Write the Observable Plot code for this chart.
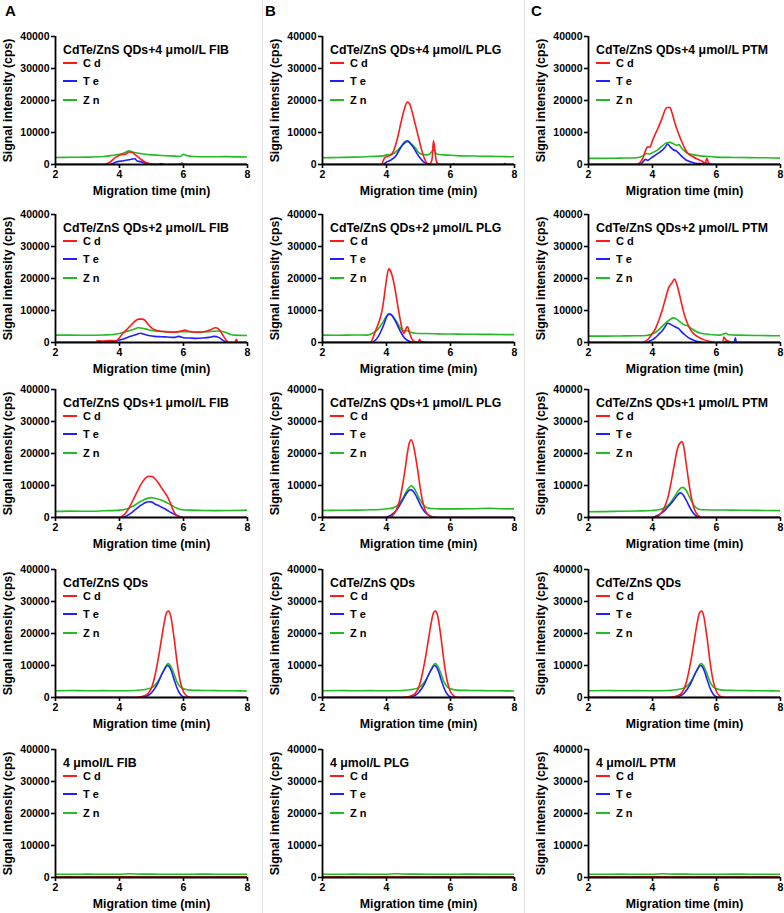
<!DOCTYPE html>
<html><head><meta charset="utf-8">
<script src="https://cdn.jsdelivr.net/npm/d3@7"></script>
<script src="https://cdn.jsdelivr.net/npm/@observablehq/plot@0.6"></script>
<style>
html,body{margin:0;padding:0;background:#fff;}
body{width:784px;height:913px;overflow:hidden;font-family:"Liberation Sans",Arial,sans-serif;color:#000;}
#root{position:relative;width:784px;height:913px;}
.panel{position:absolute;}
.panel svg{display:block;overflow:visible;}
.ov{position:absolute;font-weight:bold;white-space:nowrap;line-height:14px;}
.title{font-size:12.3px;}
.leg{font-size:11px;}
.sw{position:absolute;height:2px;width:14px;}
.letter{position:absolute;font-weight:bold;font-size:15px;}
.sep{position:absolute;top:0;width:1px;height:913px;background:#e2e2e2;}
g[aria-label="y-axis label"] text, g[aria-label="x-axis label"] text{font-size:12.3px;}
</style>
</head><body><div id="root"></div>
<script>
// ---------- axes / labels ----------
const xDomain = [2, 8];
const yDomain = [0, 40000];
const xTicks = [2, 4, 6, 8];
const yTicks = [0, 10000, 20000, 30000, 40000];
const xLabel = "Migration time (min)";
const yLabel = "Signal intensity (cps)";
const elements = ["Cd", "Te", "Zn"];
const legendLabels = ["C d", "T e", "Z n"];
const colors = ["#ff1a1a", "#1f1fff", "#22bb22"];
const columnLetters = ["A", "B", "C"];
const titlesA = ["CdTe/ZnS QDs+4 μmol/L FIB", "CdTe/ZnS QDs+2 μmol/L FIB", "CdTe/ZnS QDs+1 μmol/L FIB", "CdTe/ZnS QDs", "4 μmol/L FIB"];
const titlesB = ["CdTe/ZnS QDs+4 μmol/L PLG", "CdTe/ZnS QDs+2 μmol/L PLG", "CdTe/ZnS QDs+1 μmol/L PLG", "CdTe/ZnS QDs", "4 μmol/L PLG"];
const titlesC = ["CdTe/ZnS QDs+4 μmol/L PTM", "CdTe/ZnS QDs+2 μmol/L PTM", "CdTe/ZnS QDs+1 μmol/L PTM", "CdTe/ZnS QDs", "4 μmol/L PTM"];

// ---------- data: [time (min), intensity (cps)] ----------
// FIB 4 µmol/L
const fib4_Cd = [[2,0],[3.5,0],[3.6,200],[3.7,700],[3.8,1600],[3.9,2400],[4.0,2900],[4.1,3100],[4.2,3300],[4.3,3900],[4.38,3800],[4.5,3000],[4.6,2200],[4.7,1400],[4.8,800],[4.9,400],[5.0,150],[5.2,0],[5.8,0],[5.95,300],[6.05,100],[6.2,0],[8,0]];
const fib4_Te = [[2,0],[3.7,0],[3.8,300],[3.9,800],[4.0,1000],[4.1,1100],[4.2,1300],[4.3,1500],[4.4,1700],[4.48,1800],[4.55,1100],[4.65,900],[4.75,600],[4.85,300],[5.0,50],[5.2,0],[5.3,300],[5.4,0],[5.85,0],[5.95,400],[6.05,0],[8,0]];
const fib4_Zn = [[2,2200],[2.5,2250],[3,2300],[3.5,2500],[3.8,2900],[4.0,3200],[4.15,3600],[4.3,4300],[4.4,3900],[4.6,3500],[4.8,3200],[5.0,3000],[5.3,2800],[5.6,2700],[5.9,2500],[6.0,3200],[6.1,2800],[6.3,2500],[6.8,2400],[7.3,2450],[8,2350]];
// PLG 4 µmol/L
const plg4_Cd = [[2,0],[3.85,0],[3.9,1200],[3.95,2200],[4.05,2600],[4.15,3000],[4.25,5000],[4.35,8500],[4.45,13000],[4.55,17000],[4.65,19500],[4.72,19000],[4.8,16500],[4.9,12500],[5.0,8500],[5.1,4500],[5.2,1500],[5.28,300],[5.35,200],[5.42,1500],[5.47,7500],[5.52,3500],[5.57,600],[5.65,100],[5.75,0],[6.05,0],[6.1,300],[6.15,0],[8,0]];
const plg4_Te = [[2,0],[3.9,0],[4.0,800],[4.1,1200],[4.2,1800],[4.3,2800],[4.4,4500],[4.5,6200],[4.6,7200],[4.66,7400],[4.75,6500],[4.85,5200],[4.95,3500],[5.05,2000],[5.15,900],[5.25,300],[5.35,0],[7.65,0],[7.7,300],[7.75,0],[8,0]];
const plg4_Zn = [[2,2100],[2.5,2200],[3,2300],[3.5,2500],[3.9,2700],[4.0,3000],[4.1,3100],[4.25,3600],[4.4,5000],[4.55,6500],[4.65,7100],[4.75,6700],[4.9,5200],[5.0,3800],[5.1,3200],[5.25,3000],[5.35,3300],[5.47,4500],[5.58,3200],[5.8,3000],[6.0,2900],[6.3,2700],[7,2600],[7.5,2500],[8,2400]];
// PTM 4 µmol/L
const ptm4_Cd = [[2,0],[3.5,0],[3.6,500],[3.7,2000],[3.8,4800],[3.85,5500],[3.92,5400],[4.0,7500],[4.1,9800],[4.2,12000],[4.3,14500],[4.4,17200],[4.45,17800],[4.55,17800],[4.6,16500],[4.7,13000],[4.8,10000],[4.9,7500],[5.0,5200],[5.1,3500],[5.25,2500],[5.4,1700],[5.55,1000],[5.65,500],[5.7,2000],[5.75,500],[5.85,0],[8,0]];
const ptm4_Te = [[2,0],[3.6,0],[3.7,800],[3.78,1600],[3.85,1300],[3.95,2000],[4.1,3000],[4.25,4000],[4.4,5500],[4.47,6400],[4.55,5500],[4.65,4600],[4.75,4200],[4.85,3200],[4.95,2200],[5.05,1400],[5.2,800],[5.4,300],[5.55,300],[5.65,500],[5.75,100],[5.85,0],[8,0]];
const ptm4_Zn = [[2,1900],[2.5,1950],[3,2000],[3.5,2100],[3.7,2700],[3.8,3400],[3.9,3300],[4.0,3700],[4.15,4500],[4.3,5800],[4.45,6800],[4.55,6900],[4.65,6500],[4.75,6000],[4.83,6200],[4.9,5200],[5.0,4200],[5.1,3500],[5.3,3000],[5.5,2700],[5.8,2500],[6.0,2300],[6.5,2200],[7,2150],[7.5,2100],[8,2000]];
// FIB 2 µmol/L
const fib2_Cd = [[2,0],[3.28,0],[3.3,500],[3.5,400],[3.7,600],[3.9,500],[4.0,1500],[4.1,2800],[4.2,3800],[4.3,4800],[4.4,5800],[4.5,6800],[4.6,7300],[4.7,7300],[4.8,6900],[4.9,5600],[5.0,4600],[5.1,4000],[5.3,3500],[5.5,3300],[5.7,3200],[5.9,3500],[6.05,3900],[6.15,3500],[6.3,3300],[6.5,3200],[6.7,3500],[6.85,4000],[7.0,4600],[7.1,4200],[7.2,2800],[7.3,1200],[7.38,200],[7.45,0],[7.6,0],[7.65,1000],[7.7,0],[8,0]];
const fib2_Te = [[2,0],[3.3,0],[3.35,300],[3.6,300],[3.85,300],[3.95,600],[4.1,1000],[4.25,1600],[4.4,2100],[4.55,2600],[4.65,2900],[4.8,2500],[4.95,2100],[5.1,1900],[5.3,1800],[5.5,1700],[5.7,1600],[5.85,1900],[6.0,1500],[6.2,1400],[6.4,1300],[6.6,1400],[6.8,1600],[6.95,1900],[7.1,1600],[7.2,900],[7.3,300],[7.38,0],[8,0]];
const fib2_Zn = [[2,2300],[2.5,2300],[3,2250],[3.5,2350],[3.8,2500],[4.0,2800],[4.2,3400],[4.4,4000],[4.6,4600],[4.75,4400],[4.9,4000],[5.1,3600],[5.4,3400],[5.7,3300],[6.0,3400],[6.3,3300],[6.6,3300],[6.9,3500],[7.1,3600],[7.3,3200],[7.45,2600],[7.6,2300],[8,2200]];
// PLG 2 µmol/L
const plg2_Cd = [[2,0],[3.5,0],[3.55,800],[3.65,3500],[3.75,6000],[3.8,7500],[3.88,11000],[3.95,16000],[4.02,21000],[4.07,23000],[4.12,22500],[4.2,20000],[4.28,16000],[4.36,11000],[4.44,6500],[4.5,3800],[4.55,2800],[4.62,4600],[4.66,4900],[4.72,3000],[4.8,1000],[4.9,200],[5.0,0],[5.03,1000],[5.08,300],[5.15,200],[5.3,0],[8,0]];
const plg2_Te = [[2,0],[3.55,0],[3.65,700],[3.75,2000],[3.85,4000],[3.95,6500],[4.02,8400],[4.08,9000],[4.15,8700],[4.25,7200],[4.35,5200],[4.45,3200],[4.55,1600],[4.65,700],[4.75,200],[4.85,0],[8,0]];
const plg2_Zn = [[2,2300],[2.5,2250],[3,2350],[3.4,2300],[3.55,2800],[3.7,3800],[3.8,5000],[3.9,6500],[4.0,8200],[4.08,8800],[4.15,8600],[4.25,7500],[4.35,6000],[4.45,4300],[4.55,3600],[4.65,3700],[4.75,3200],[4.9,2900],[5.2,2800],[5.6,2700],[6.0,2650],[6.5,2600],[7,2550],[7.5,2500],[8,2450]];
// PTM 2 µmol/L
const ptm2_Cd = [[2,0],[3.7,0],[3.8,500],[3.9,1500],[4.0,2800],[4.1,4500],[4.2,7000],[4.3,10000],[4.4,13500],[4.5,17000],[4.6,18500],[4.69,19800],[4.75,18500],[4.82,16000],[4.9,12500],[5.0,8500],[5.1,5800],[5.2,3800],[5.3,2600],[5.45,1600],[5.6,900],[5.8,300],[5.95,0],[6.2,0],[6.23,1700],[6.3,800],[6.4,300],[6.5,0],[8,0]];
const ptm2_Te = [[2,0],[3.8,0],[3.9,400],[4.0,900],[4.1,1600],[4.2,2600],[4.3,3600],[4.4,5000],[4.47,6000],[4.55,5800],[4.65,5200],[4.75,4700],[4.82,4300],[4.9,3400],[5.0,2500],[5.1,1700],[5.2,1100],[5.35,500],[5.5,150],[5.6,0],[6.25,0],[6.3,400],[6.35,0],[6.55,0],[6.59,1500],[6.62,0],[8,0]];
const ptm2_Zn = [[2,2000],[2.5,2000],[3,2050],[3.5,2100],[3.8,2200],[3.95,2500],[4.1,3200],[4.25,4500],[4.4,6000],[4.55,7200],[4.65,7700],[4.75,7300],[4.85,6500],[5.0,5500],[5.1,5200],[5.2,4500],[5.35,3500],[5.5,2900],[5.8,2500],[6.1,2300],[6.3,2900],[6.4,2400],[6.7,2300],[7.2,2200],[7.6,2150],[8,2100]];
// FIB 1 µmol/L
const fib1_Cd = [[2,0],[4.0,0],[4.1,500],[4.2,1500],[4.3,3000],[4.4,5000],[4.5,7000],[4.6,9000],[4.7,10800],[4.8,12200],[4.92,12900],[5.02,12800],[5.1,12200],[5.2,11000],[5.3,9500],[5.4,8000],[5.5,6500],[5.6,4200],[5.7,1800],[5.8,500],[5.9,100],[6.0,0],[8,0]];
const fib1_Te = [[2,0],[4.1,0],[4.2,400],[4.3,1000],[4.4,1700],[4.5,2500],[4.6,3300],[4.7,4000],[4.8,4600],[4.92,4900],[5.02,4800],[5.1,4200],[5.2,3800],[5.3,3300],[5.4,2800],[5.5,2200],[5.6,1600],[5.7,1100],[5.8,600],[5.9,200],[6.0,0],[8,0]];
const fib1_Zn = [[2,1900],[2.5,2000],[3,1950],[3.5,2100],[4.0,2300],[4.2,2600],[4.35,3200],[4.5,4000],[4.6,4700],[4.7,5200],[4.85,5900],[5.0,6200],[5.1,6000],[5.25,5600],[5.4,5000],[5.5,4500],[5.6,4000],[5.7,3400],[5.8,2900],[5.95,2400],[6.2,2300],[6.6,2200],[7,2150],[7.5,2200],[8,2300]];
// PLG 1 µmol/L
const plg1_Cd = [[2,0],[4.1,0],[4.2,700],[4.3,2200],[4.4,5000],[4.5,10000],[4.58,15000],[4.65,20000],[4.72,23500],[4.77,24300],[4.83,23000],[4.9,19500],[4.98,14500],[5.05,9500],[5.12,5500],[5.2,2500],[5.3,900],[5.4,250],[5.5,0],[8,0]];
const plg1_Te = [[2,0],[3.95,0],[4.05,300],[4.15,800],[4.25,1600],[4.35,2800],[4.45,4500],[4.55,6300],[4.65,7900],[4.75,8700],[4.82,8300],[4.9,7200],[5.0,5200],[5.1,3200],[5.2,1700],[5.3,800],[5.4,300],[5.5,50],[5.6,0],[8,0]];
const plg1_Zn = [[2,2200],[2.5,2250],[3,2300],[3.5,2400],[3.9,2600],[4.1,2800],[4.25,3200],[4.4,4300],[4.5,5800],[4.6,7800],[4.7,9300],[4.77,9900],[4.85,9300],[4.95,7500],[5.05,5500],[5.15,4000],[5.25,3100],[5.4,2800],[5.7,2700],[6.2,2700],[6.7,2750],[7.2,2900],[7.6,2750],[8,2700]];
// PTM 1 µmol/L
const ptm1_Cd = [[2,0],[4.1,0],[4.2,600],[4.3,1800],[4.4,3800],[4.5,7000],[4.6,12000],[4.7,17500],[4.78,21500],[4.84,23000],[4.92,23700],[4.98,22000],[5.05,17000],[5.12,12000],[5.2,7000],[5.28,3500],[5.36,1500],[5.45,400],[5.55,0],[8,0]];
const ptm1_Te = [[2,0],[4.0,0],[4.1,400],[4.2,900],[4.3,1500],[4.4,2400],[4.5,3500],[4.6,4600],[4.7,5900],[4.8,7200],[4.87,7700],[4.95,7200],[5.05,5500],[5.15,3500],[5.25,1700],[5.35,600],[5.45,100],[5.5,0],[8,0]];
const ptm1_Zn = [[2,1800],[2.5,1850],[3,1950],[3.5,2050],[4,2200],[4.2,2400],[4.35,2900],[4.5,4000],[4.6,5200],[4.7,6700],[4.8,8300],[4.9,9300],[4.95,9400],[5.05,8500],[5.15,6500],[5.25,4500],[5.35,3200],[5.45,2600],[5.6,2400],[6,2350],[6.5,2300],[7,2250],[7.5,2200],[8,2150]];
// CdTe/ZnS QDs alone
const qd_Cd = [[2,0],[4.5,0],[4.65,200],[4.8,600],[4.9,1300],[5.0,3000],[5.1,6500],[5.2,11500],[5.3,17500],[5.4,23500],[5.47,26500],[5.53,27000],[5.6,25500],[5.7,19000],[5.8,11000],[5.9,5000],[6.0,1800],[6.1,500],[6.2,100],[6.3,0],[8,0]];
const qd_Te = [[2,0],[4.6,0],[4.75,200],[4.9,700],[5.0,1500],[5.1,2800],[5.2,4500],[5.3,6800],[5.4,8700],[5.5,10000],[5.55,9700],[5.62,8300],[5.7,5800],[5.8,2900],[5.9,1000],[6.0,200],[6.1,0],[8,0]];
const qd_Zn = [[2,2100],[2.5,2200],[3,2100],[3.5,2150],[4.0,2100],[4.5,2200],[4.8,2500],[5.0,3100],[5.1,3800],[5.2,5000],[5.3,6800],[5.4,8800],[5.48,10300],[5.53,10600],[5.6,9800],[5.7,7500],[5.8,4800],[5.9,3300],[6.0,2700],[6.2,2300],[6.6,2200],[7,2150],[7.5,2100],[8,2050]];
// protein alone, 4 µmol/L
const blank_Cd = [[2,150],[3,150],[4,180],[5,150],[6,160],[7,150],[8,150]];
const blank_Te = [[2,50],[4,50],[6,50],[8,50]];
const blank_Zn = [[2,1000],[2.5,1020],[3,1050],[3.5,1000],[4,1020],[4.3,1150],[4.7,1050],[5,1050],[5.5,1000],[6,1020],[6.5,1050],[7,1030],[7.5,1000],[8,1000]];

const panelsA = [[fib4_Cd, fib4_Te, fib4_Zn], [fib2_Cd, fib2_Te, fib2_Zn], [fib1_Cd, fib1_Te, fib1_Zn], [qd_Cd, qd_Te, qd_Zn], [blank_Cd, blank_Te, blank_Zn]];
const panelsB = [[plg4_Cd, plg4_Te, plg4_Zn], [plg2_Cd, plg2_Te, plg2_Zn], [plg1_Cd, plg1_Te, plg1_Zn], [qd_Cd, qd_Te, qd_Zn], [blank_Cd, blank_Te, blank_Zn]];
const panelsC = [[ptm4_Cd, ptm4_Te, ptm4_Zn], [ptm2_Cd, ptm2_Te, ptm2_Zn], [ptm1_Cd, ptm1_Te, ptm1_Zn], [qd_Cd, qd_Te, qd_Zn], [blank_Cd, blank_Te, blank_Zn]];

// ---------- layout ----------
const colAxisX = [55, 322, 588];
const rowTop = [36, 214, 389, 569, 749];
const plotW = 192, plotH = 128;
const ML = 55, MT = 8, MB = 32, MR = 4;

const root = document.getElementById("root");
[262, 524].forEach(x => { const s = document.createElement("div"); s.className = "sep"; s.style.left = x + "px"; root.appendChild(s); });
const letterPos = [[5, 2], [265, 2], [531, 2]];
columnLetters.forEach((L, i) => {
  const d = document.createElement("div"); d.className = "letter"; d.textContent = L;
  d.style.left = letterPos[i][0] + "px"; d.style.top = letterPos[i][1] + "px"; root.appendChild(d);
});

const cols = [[titlesA, panelsA], [titlesB, panelsB], [titlesC, panelsC]];
cols.forEach(([titles, panels], ci) => {
  panels.forEach((series, ri) => {
    const chart = Plot.plot({
      width: ML + plotW + MR, height: MT + plotH + MB,
      marginLeft: ML, marginTop: MT, marginBottom: MB, marginRight: MR,
      style: {fontFamily: "'Liberation Sans', Arial, sans-serif", fontSize: "10.5px", fontWeight: "bold", color: "#000", background: "transparent"},
      x: {domain: xDomain},
      y: {domain: yDomain},
      marks: [
        Plot.axisY(yTicks, {tickFormat: d => String(d), tickSize: 4, tickPadding: 2, strokeWidth: 1.6,
          label: yLabel, labelArrow: "none", labelAnchor: "center", labelOffset: 52}),
        Plot.axisX(xTicks, {tickFormat: d => String(d), tickSize: 4, tickPadding: 2, strokeWidth: 1.6,
          label: xLabel, labelArrow: "none", labelAnchor: "center", labelOffset: 30}),
        ...[2, 1, 0].map(k => Plot.line(series[k], {x: d => d[0], y: d => d[1], stroke: colors[k], strokeWidth: 1.6, curve: "monotone-x", clip: true})),
        Plot.ruleY([yDomain[0]], {strokeWidth: 1.8}),
        Plot.ruleX([xDomain[0]], {strokeWidth: 1.8})
      ]
    });
    const p = document.createElement("div"); p.className = "panel";
    p.style.left = (colAxisX[ci] - ML) + "px"; p.style.top = (rowTop[ri] - MT) + "px";
    p.appendChild(chart);
    const t = document.createElement("div"); t.className = "ov title"; t.textContent = titles[ri];
    t.style.left = (ML + 8) + "px"; t.style.top = (MT + 14 - 7) + "px"; p.appendChild(t);
    const legY = [27, 45, 64];
    elements.forEach((el, k) => {
      const sw = document.createElement("div"); sw.className = "sw"; sw.style.background = colors[k];
      sw.style.left = (ML + 8) + "px"; sw.style.top = (MT + legY[k] - 1) + "px"; p.appendChild(sw);
      const lt = document.createElement("div"); lt.className = "ov leg"; lt.textContent = legendLabels[k];
      lt.style.left = (ML + 28) + "px"; lt.style.top = (MT + legY[k] - 7) + "px"; p.appendChild(lt);
    });
    root.appendChild(p);
  });
});
</script>
</body></html>
